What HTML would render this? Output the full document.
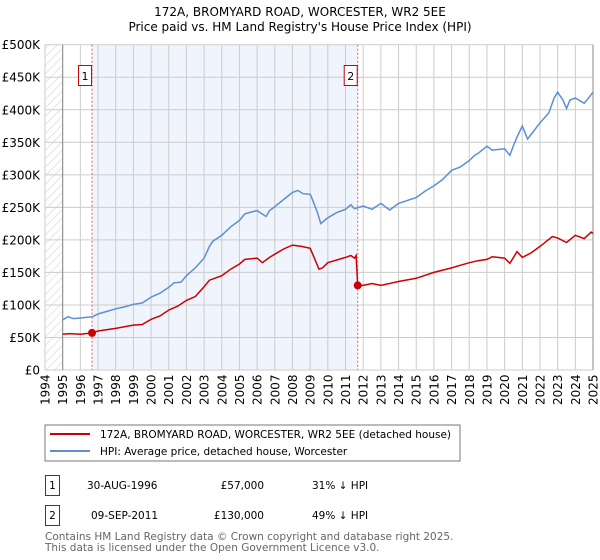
<!DOCTYPE html>
<html><head><meta charset="utf-8"><style>
body{margin:0;background:#fff;font-family:"DejaVu Sans","Liberation Sans",sans-serif;}
svg{display:block}
</style></head><body>
<svg id="c" width="600" height="560" xmlns="http://www.w3.org/2000/svg" font-family="DejaVu Sans, Liberation Sans, sans-serif">
<defs><pattern id="hatch" width="6" height="6" patternUnits="userSpaceOnUse" patternTransform="rotate(45)"><line x1="0" y1="0" x2="0" y2="6" stroke="#ccc" stroke-width="1"/></pattern></defs>
<text x="300" y="16" text-anchor="middle" font-size="12">172A, BROMYARD ROAD, WORCESTER, WR2 5EE</text>
<text x="300" y="31" text-anchor="middle" font-size="12">Price paid vs. HM Land Registry's House Price Index (HPI)</text>
<g id="plot"></g>
<rect x="45" y="425" width="415" height="36" fill="#fff" stroke="#777"/>
<line x1="50" y1="434" x2="90" y2="434" stroke="#cc0000" stroke-width="2"/>
<text x="100" y="438" font-size="10.5">172A, BROMYARD ROAD, WORCESTER, WR2 5EE (detached house)</text>
<line x1="50" y1="451" x2="90" y2="451" stroke="#5b8fd4" stroke-width="2"/>
<text x="100" y="455" font-size="10.5">HPI: Average price, detached house, Worcester</text>
<g font-size="10.5">
<rect x="45.5" y="475.5" width="14" height="20" fill="none" stroke="#cc0000"/>
<text x="52.5" y="489" text-anchor="middle">1</text>
<text x="87" y="489">30-AUG-1996</text>
<text x="264" y="489" text-anchor="end">£57,000</text>
<text x="312" y="489">31% ↓ HPI</text>
<rect x="45.5" y="505.5" width="14" height="20" fill="none" stroke="#cc0000"/>
<text x="52.5" y="519" text-anchor="middle">2</text>
<text x="91" y="519">09-SEP-2011</text>
<text x="264" y="519" text-anchor="end">£130,000</text>
<text x="312" y="519">49% ↓ HPI</text>
</g>
<text x="45" y="540" font-size="10.5" fill="#666">Contains HM Land Registry data © Crown copyright and database right 2025.</text>
<text x="45" y="551" font-size="10.5" fill="#666">This data is licensed under the Open Government Licence v3.0.</text>
</svg>
<script>
const yTicks=[0,50,100,150,200,250,300,350,400,450,500];
const yTickLabels=["£0","£50K","£100K","£150K","£200K","£250K","£300K","£350K","£400K","£450K","£500K"];
const years=[1994,1995,1996,1997,1998,1999,2000,2001,2002,2003,2004,2005,2006,2007,2008,2009,2010,2011,2012,2013,2014,2015,2016,2017,2018,2019,2020,2021,2022,2023,2024,2025];
const saleDates=[1996.66,2011.69];
const salePrices=[57,130];
const saleLabels=["1","2"];
const hpiT=[1995.0,1995.3,1995.6,1996,1996.7,1997,1997.5,1998,1998.5,1999,1999.5,2000,2000.5,2001,2001.3,2001.7,2002,2002.5,2003,2003.3,2003.5,2004,2004.5,2005,2005.3,2005.7,2006,2006.5,2006.7,2007,2007.5,2008,2008.3,2008.6,2009,2009.1,2009.4,2009.6,2010,2010.5,2011,2011.3,2011.5,2012,2012.5,2013,2013.5,2014,2015,2015.5,2016,2016.5,2017,2017.5,2018,2018.3,2018.5,2019,2019.3,2020,2020.3,2020.5,2020.7,2021,2021.3,2021.5,2022,2022.5,2022.8,2023,2023.3,2023.5,2023.7,2024,2024.5,2024.8,2025];
const hpiV=[77,82,79,80,82,86,90,94,97,101,103,112,118,127,134,135,145,157,172,190,198,207,220,230,240,243,245,236,245,251,262,273,276,271,270,264,243,225,234,242,247,254,248,252,247,256,246,256,265,275,283,293,307,312,322,330,333,344,338,340,330,345,358,375,355,362,380,395,418,427,415,402,415,418,410,420,427];
const ppT=[1995,1995.4,1996,1996.66,1997,1998,1999,1999.5,2000,2000.5,2001,2001.5,2002,2002.5,2003,2003.3,2004,2004.5,2005,2005.3,2006,2006.3,2006.7,2007,2007.5,2008,2008.5,2009,2009.5,2009.7,2010,2011,2011.3,2011.5,2011.6,2011.69,2012,2012.5,2013,2014,2015,2016,2017,2018,2018.5,2019,2019.3,2020,2020.3,2020.7,2021,2021.5,2022,2022.7,2023,2023.5,2024,2024.5,2024.9,2025];
const ppV=[55,56,55,57,60,64,69,70,78,83,92,98,107,113,128,138,145,155,163,170,172,165,173,178,186,192,190,187,155,157,165,173,176,172,176,130,130,133,130,136,141,150,157,165,168,170,174,172,164,182,173,180,190,205,203,196,207,202,212,210];

const NS="http://www.w3.org/2000/svg";
const X0=45,X1=593,Y0=370,Y1=44.7;
const xs=t=>X0+(t-1994)/(2025-1994)*(X1-X0);
const ys=v=>Y0-(v/500)*(Y0-Y1);
const g=document.getElementById('plot');
function mk(tag,a){const e=document.createElementNS(NS,tag);for(const k in a)e.setAttribute(k,a[k]);g.appendChild(e);return e;}
let e;
e=mk('rect',{x:X0,y:Y1,width:X1-X0,height:Y0-Y1,fill:'#fff'});


e=mk('rect',{x:xs(saleDates[0]),y:Y1,width:xs(saleDates[1])-xs(saleDates[0]),height:Y0-Y1,fill:'#f0f4fd'});


e=mk('rect',{x:X0,y:Y1,width:xs(1995)-X0,height:Y0-Y1,fill:'url(#hatch)'});


yTicks.forEach((v,i)=>{
 e=mk('line',{x1:X0,x2:X1,y1:ys(v),y2:ys(v),stroke:'#ccc','stroke-width':1});
 
 
 e=mk('text',{x:40,y:ys(v)+4.5,'text-anchor':'end','font-size':12});
 e.textContent=yTickLabels[i];
 
 
});
years.forEach(yr=>{
 e=mk('line',{x1:xs(yr),x2:xs(yr),y1:Y1,y2:Y0,stroke:'#ccc','stroke-width':1});
 
 
 const x=xs(yr)+4.5;
 e=mk('text',{x:x,y:405,'font-size':12,transform:`rotate(-90 ${x} 405)`});
 e.textContent=yr;
 
 
});
e=mk('line',{x1:xs(1995),x2:xs(1995),y1:Y1,y2:Y0,stroke:'#888'});


e=mk('line',{x1:X1,x2:X1,y1:Y1,y2:Y0,stroke:'#888'});


saleDates.forEach((d,i)=>{
 e=mk('line',{x1:xs(d),x2:xs(d),y1:Y1,y2:Y0,stroke:'#e06060','stroke-dasharray':'2,2','stroke-width':1});
 
 
 e=mk('rect',{x:xs(d)-13.5,y:65.5,width:13,height:20,fill:'#fff',stroke:'#cc0000'});
 
 
 e=mk('text',{x:xs(d)-7,y:80,'text-anchor':'middle','font-size':11});
 e.textContent=saleLabels[i];
 
 
});
const path=(T,V)=>T.map((t,i)=>(i?'L':'M')+xs(t).toFixed(1)+','+ys(V[i]).toFixed(1)).join('');
e=mk('path',{d:path(hpiT,hpiV),fill:'none',stroke:'#5b8fd4','stroke-width':1.5});


e=mk('path',{d:path(ppT,ppV),fill:'none',stroke:'#cc0000','stroke-width':1.5});


saleDates.forEach((d,i)=>{
 e=mk('circle',{cx:xs(d),cy:ys(salePrices[i]),r:4,fill:'#cc0000'});
 
 
});
</script>
</body></html>
